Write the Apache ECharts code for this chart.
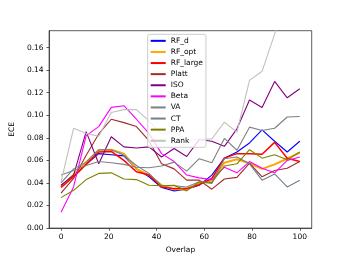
<!DOCTYPE html>
<html>
<head>
<meta charset="utf-8">
<script src="https://cdn.jsdelivr.net/npm/echarts@6/dist/echarts.min.js"></script>
<style>html,body{margin:0;padding:0;background:#fff;}#c{width:346px;height:259px;}</style>
</head>
<body>
<div id="c"></div>
<script>
const overlap = [0, 5.26, 10.53, 15.79, 21.05, 26.32, 31.58, 36.84, 42.11, 47.37, 52.63, 57.89, 63.16, 68.42, 73.68, 78.95, 84.21, 89.47, 94.74, 100];
const RF_d     = [0.0375,0.047,0.0565,0.066,0.065,0.064,0.0525,0.0455,0.036,0.033,0.0345,0.038,0.047,0.062,0.0675,0.0755,0.087,0.077,0.0675,0.077];
const RF_opt   = [0.0365,0.0475,0.0585,0.069,0.0695,0.066,0.0525,0.047,0.038,0.0345,0.0345,0.0395,0.0425,0.058,0.061,0.0575,0.0525,0.0565,0.0615,0.067];
const RF_large = [0.036,0.0455,0.0565,0.0675,0.068,0.060,0.050,0.047,0.0365,0.035,0.035,0.0385,0.044,0.062,0.066,0.066,0.0655,0.076,0.062,0.059];
const Platt    = [0.031,0.044,0.0645,0.0835,0.0965,0.0935,0.090,0.0775,0.057,0.0525,0.0425,0.0425,0.0345,0.0435,0.045,0.0575,0.0455,0.051,0.053,0.059];
const ISO      = [0.038,0.047,0.0855,0.057,0.081,0.072,0.071,0.072,0.063,0.0705,0.0635,0.0785,0.077,0.0725,0.088,0.1135,0.107,0.130,0.1155,0.1235];
const Beta     = [0.014,0.0365,0.082,0.090,0.107,0.1085,0.0965,0.084,0.066,0.059,0.047,0.0445,0.043,0.054,0.049,0.059,0.053,0.049,0.060,0.063];
const VA       = [0.047,0.051,0.0555,0.059,0.058,0.0565,0.054,0.0535,0.055,0.0585,0.0505,0.0615,0.058,0.0795,0.069,0.0895,0.0865,0.0885,0.0985,0.099];
const CT       = [0.040,0.0525,0.0585,0.0695,0.0695,0.0645,0.0555,0.0485,0.0375,0.0375,0.0365,0.041,0.0395,0.0615,0.063,0.057,0.0425,0.048,0.0365,0.0425];
const PPA      = [0.027,0.0335,0.043,0.0485,0.049,0.0435,0.043,0.038,0.0375,0.038,0.033,0.041,0.0405,0.055,0.057,0.0695,0.062,0.065,0.0605,0.0675];
const Rank     = [0.041,0.0885,0.084,0.0815,0.1025,0.105,0.105,0.095,0.0835,0.086,0.0775,0.079,0.079,0.094,0.085,0.131,0.139,0.172,0.21,0.245];
const xTicks = [0, 20, 40, 60, 80, 100];
const yTicks = [0, 0.02, 0.04, 0.06, 0.08, 0.10, 0.12, 0.14, 0.16];

const seriesDefs = [
  ['RF_d', RF_d, '#0000ff', 1.1],
  ['RF_opt', RF_opt, '#ffa500', 2],
  ['RF_large', RF_large, '#ff0000', 1.5],
  ['Platt', Platt, '#a52a2a', 1.1],
  ['ISO', ISO, '#800080', 1.1],
  ['Beta', Beta, '#ff00ff', 1.1],
  ['VA', VA, '#808080', 1.1],
  ['CT', CT, '#708090', 1.1],
  ['PPA', PPA, '#808000', 1.1],
  ['Rank', Rank, '#c0c0c0', 1.1]
];
const font = 'DejaVu Sans';
const chart = echarts.init(document.getElementById('c'), null, {renderer: 'canvas'});
chart.setOption({
  animation: false,
  backgroundColor: '#fff',
  grid: {left: 43.3, right: 34.3, top: 30.7, bottom: 29, show: true, borderColor: '#333', borderWidth: 0.8, backgroundColor: 'transparent'},
  legend: {
    orient: 'vertical', left: 147.7, top: 34.3,
    padding: [1, 3, 1, 3],
    itemWidth: 15, itemHeight: 2, itemGap: 0,
    icon: 'rect',
    backgroundColor: 'rgba(255,255,255,0.8)', borderColor: '#ccc', borderWidth: 1, borderRadius: 2,
    textStyle: {fontFamily: font, fontSize: 7.5, color: '#000', lineHeight: 11.1},
    data: seriesDefs.map(s => s[0])
  },
  xAxis: {
    type: 'value', min: -5, max: 105,
    name: 'Overlap', nameLocation: 'middle', nameGap: 13.5,
    nameTextStyle: {fontFamily: font, fontSize: 7.5, color: '#000'},
    axisLine: {show: true, onZero: false, lineStyle: {color: '#333', width: 0.8}},
    axisTick: {show: true, length: 2.6, customValues: xTicks, lineStyle: {color: '#333', width: 0.8}},
    axisLabel: {customValues: xTicks, fontFamily: font, fontSize: 7.5, color: '#000', margin: 5},
    splitLine: {show: false}
  },
  yAxis: {
    type: 'value', min: 0, max: 0.175,
    name: 'ECE', nameLocation: 'middle', nameGap: 25,
    nameTextStyle: {fontFamily: font, fontSize: 7.5, color: '#000'},
    axisLine: {show: true, onZero: false, lineStyle: {color: '#333', width: 0.8}},
    axisTick: {show: true, length: 2.6, customValues: yTicks, lineStyle: {color: '#333', width: 0.8}},
    axisLabel: {customValues: yTicks, fontFamily: font, fontSize: 7.5, color: '#000', margin: 5.5, formatter: v => v.toFixed(2)},
    splitLine: {show: false}
  },
  series: seriesDefs.map(s => ({
    name: s[0], type: 'line', symbol: 'none', clip: true,
    data: overlap.map((x, i) => [x, s[1][i]]),
    lineStyle: {color: s[2], width: s[3]},
    itemStyle: {color: s[2]}
  }))
});
</script>
</body>
</html>
